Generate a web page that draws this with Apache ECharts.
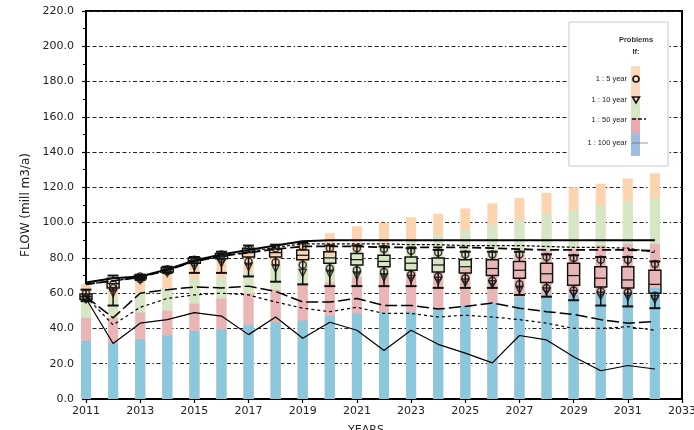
<!DOCTYPE html>
<html>
<head>
<meta charset="utf-8">
<script src="https://cdn.jsdelivr.net/npm/echarts@6/dist/echarts.min.js"></script>
<style>
  html, body { margin: 0; padding: 0; background: #fff; }
  #chart { width: 694px; height: 430px; }
</style>
</head>
<body>
<div id="chart"></div>
<script>
// Years on the horizontal axis
const years = [2011, 2012, 2013, 2014, 2015, 2016, 2017, 2018, 2019, 2020, 2021,
               2022, 2023, 2024, 2025, 2026, 2027, 2028, 2029, 2030, 2031, 2032];

// Demand levels (upper edge of each band, mill m3/a)
const level100 = [33, 31.5, 34, 36, 38.5, 39.5, 42, 43.5, 44.5, 47, 48.5, 49, 49.5, 51, 53, 54.5, 58, 59, 59, 60, 60, 63];
const level50  = [46, 46, 49, 50, 54, 57, 60, 62, 65, 66, 69, 70, 72, 72, 74, 80, 82, 84, 85, 87, 88, 88];
const level10  = [57, 58, 60, 63, 68, 69, 72, 75, 78, 81, 84, 87, 90, 93, 96, 99, 101, 105, 107, 110, 112, 114];
const level5   = [65, 66, 70, 73, 78, 80, 83, 86, 90, 94, 98, 100, 103, 105, 108, 111, 114, 117, 120, 122, 125, 128];

// Supply lines
const supplyTop   = [66, 68.5, 69.5, 73.5, 78.5, 82, 84.5, 87, 89.5, 90, 90, 90, 90, 90, 90, 90, 90, 90, 90, 90, 90, 90];
const upperShort  = [65, 67, 69, 73, 78, 81, 83.5, 86, 88, 88, 88, 88, 87.5, 87.5, 87, 87, 87, 86.5, 86, 86, 85.5, 83];
const upperLong   = [65, 67, 69, 73, 78, 81, 83, 85, 86.5, 86.5, 86.5, 86, 86, 86, 86, 85.5, 85, 84.5, 84.5, 84.5, 84.5, 84];
const middleLong  = [58, 46, 60, 62, 63.5, 63, 64, 61, 55, 55, 57, 53, 53, 51, 52.5, 54.5, 51.5, 49.5, 48, 45, 43, 44];
const middleShort = [58, 42, 52, 57, 59, 60, 59, 55, 51.5, 49.5, 52, 48.5, 48.5, 46.5, 47.5, 46.5, 45, 43, 40, 40, 41, 39];
const lowerSolid  = [57, 31.5, 43, 45, 49, 47, 36.5, 46.5, 34.5, 43.5, 39, 27.5, 39, 31, 26, 20.5, 36, 33.5, 24, 16, 19, 17];

// Box-and-whisker statistics: [low, q1, median, q3, high]
const boxStats = [
  [55.5, 56.5, 58, 59.5, 62], [53, 63, 65.5, 68.5, 70], [67.5, 68.2, 69, 70, 70.5],
  [71.5, 72, 73.5, 74.5, 75], [71.5, 77, 78.5, 80, 80.5], [71.5, 79.5, 81, 82.5, 83.5],
  [69.5, 80.5, 83, 85.5, 87], [66.5, 80.5, 83, 85, 87.5], [65, 79, 81.5, 84.5, 88.5],
  [64, 77, 80, 83.5, 87], [64, 76, 79, 82.5, 87], [64, 75, 78, 81.5, 86.5],
  [64, 73, 77, 80.5, 85.5], [63, 72, 76, 80, 84.5], [63, 71.5, 75, 79, 83.5],
  [63, 70, 74, 79, 83.5], [59, 68.5, 73, 78, 83.5], [58, 66, 71, 77, 82],
  [56, 64.5, 70, 77, 81.5], [53, 63.5, 68.5, 75, 80.5], [52.5, 63, 67.5, 75, 80.5],
  [51.5, 60, 65, 73, 78]
];

// Failure points: 1:5 year (circles) and 1:10 year (triangles)
const fiveYearHigh = [60, 65, 69.5, 73.5, 79, 82, 85, 85.5, 86.5, 85.5, 85.5, 85, 84, 83, 82, 82, 82, 80.5, 80, 79, 79, 76.5];
const fiveYearLow  = [57, 63, 68, 72.5, 77.5, 79.5, 78, 77.5, 76, 74, 73, 72, 70.5, 69.5, 68.5, 67, 65, 63, 61.5, 61, 60.5, 58.5];
const tenYearLow   = [56.5, 60, 67.5, 71.5, 75, 77, 75, 74, 71.5, 71, 70, 69, 68, 67, 66, 65, 62, 61, 59.5, 58.5, 58, 56.5];

const yTicks = { min: 0, max: 220, step: 20 };
const xTicks = { min: 2011, max: 2033, step: 2 };

const FONT = 'DejaVu Sans';
const pair = arr => years.map((y, i) => [y, arr[i]]);

const bandColors = { b100: '#8bc8dd', b50: '#e9b5b6', b10: '#d7e6c4', b5: '#fcd4b0' };

// Each band is drawn from zero to its upper level; lower bands are painted over higher ones
function barSeries(name, levels, color) {
  return {
    name, type: 'bar', data: pair(levels), barWidth: 10, barGap: '-100%',
    itemStyle: { color }, z: 1, silent: true
  };
}
function lineSeries(name, data, width, type) {
  return {
    name, type: 'line', data: pair(data), symbol: 'none', z: 4, silent: true,
    lineStyle: { color: '#000', width, type }
  };
}

const boxSeries = {
  type: 'custom', z: 5, silent: true,
  data: years.map((y, i) => [y].concat(boxStats[i])),
  renderItem(params, api) {
    const x = api.value(0);
    const pLow = api.coord([x, api.value(1)]);
    const pQ1 = api.coord([x, api.value(2)]);
    const pMed = api.coord([x, api.value(3)]);
    const pQ3 = api.coord([x, api.value(4)]);
    const pHigh = api.coord([x, api.value(5)]);
    const cx = pLow[0], hw = 6, cap = 5.5;
    const st = { stroke: '#111', lineWidth: 1.5, fill: null };
    return {
      type: 'group',
      children: [
        { type: 'line', shape: { x1: cx, y1: pHigh[1], x2: cx, y2: pQ3[1] }, style: st },
        { type: 'line', shape: { x1: cx, y1: pQ1[1], x2: cx, y2: pLow[1] }, style: st },
        { type: 'line', shape: { x1: cx - cap, y1: pHigh[1], x2: cx + cap, y2: pHigh[1] }, style: { stroke: '#111', lineWidth: 2 } },
        { type: 'line', shape: { x1: cx - cap, y1: pLow[1], x2: cx + cap, y2: pLow[1] }, style: { stroke: '#111', lineWidth: 2 } },
        { type: 'rect', shape: { x: cx - hw, y: pQ3[1], width: hw * 2, height: pQ1[1] - pQ3[1] }, style: st },
        { type: 'line', shape: { x1: cx - hw, y1: pMed[1], x2: cx + hw, y2: pMed[1] }, style: { stroke: '#111', lineWidth: 1.2 } }
      ]
    };
  }
};

function markerSeries(name, data, symbol, size, rotate) {
  return {
    name, type: 'scatter', data: pair(data), symbol, symbolSize: size, symbolRotate: rotate || 0,
    z: 6, silent: true,
    itemStyle: { color: 'rgba(0,0,0,0)', borderColor: '#111', borderWidth: 1.5 }
  };
}

const chart = echarts.init(document.getElementById('chart'), null, { renderer: 'canvas' });

// Legend panel on the upper right of the plot
const lg = { x: 569, y: 22, w: 99, h: 144, barX: 631, barW: 9 };
const legendFont = '7.5px "Liberation Sans"';
const legendGraphics = [
  { type: 'rect', shape: { x: lg.x, y: lg.y, width: lg.w, height: lg.h }, style: { fill: '#fff', stroke: '#c8c8c8', lineWidth: 1 }, z: 20 },
  { type: 'text', x: 636, y: 40, style: { text: 'Problems', font: 'bold 7.5px "Liberation Sans"', fill: '#333', textAlign: 'center', textVerticalAlign: 'middle' }, z: 21 },
  { type: 'text', x: 636, y: 52, style: { text: 'If:', font: 'bold 7.5px "Liberation Sans"', fill: '#333', textAlign: 'center', textVerticalAlign: 'middle' }, z: 21 },
  { type: 'rect', shape: { x: lg.barX, y: 66, width: lg.barW, height: 34 }, style: { fill: '#fbd9bd' }, z: 21 },
  { type: 'rect', shape: { x: lg.barX, y: 100, width: lg.barW, height: 18 }, style: { fill: '#d7e6c4' }, z: 21 },
  { type: 'rect', shape: { x: lg.barX, y: 118, width: lg.barW, height: 15 }, style: { fill: '#e9a9ad' }, z: 21 },
  { type: 'rect', shape: { x: lg.barX, y: 133, width: lg.barW, height: 23 }, style: { fill: '#9ebee0' }, z: 21 },
  { type: 'text', x: 627, y: 79, style: { text: '1 : 5 year', font: legendFont, fill: '#222', textAlign: 'right', textVerticalAlign: 'middle' }, z: 21 },
  { type: 'text', x: 627, y: 100, style: { text: '1 : 10 year', font: legendFont, fill: '#222', textAlign: 'right', textVerticalAlign: 'middle' }, z: 21 },
  { type: 'text', x: 627, y: 120, style: { text: '1 : 50 year', font: legendFont, fill: '#222', textAlign: 'right', textVerticalAlign: 'middle' }, z: 21 },
  { type: 'text', x: 627, y: 143, style: { text: '1 : 100 year', font: legendFont, fill: '#222', textAlign: 'right', textVerticalAlign: 'middle' }, z: 21 },
  { type: 'circle', shape: { cx: 636, cy: 79, r: 3 }, style: { fill: null, stroke: '#111', lineWidth: 1.6 }, z: 22 },
  { type: 'polygon', shape: { points: [[632.5, 97], [639.5, 97], [636, 103]] }, style: { fill: null, stroke: '#111', lineWidth: 1.6 }, z: 22 },
  { type: 'line', shape: { x1: 632, y1: 119, x2: 646, y2: 119 }, style: { stroke: '#111', lineWidth: 1.6, lineDash: [4, 2] }, z: 22 },
  { type: 'line', shape: { x1: 632, y1: 143, x2: 648, y2: 143 }, style: { stroke: '#556', lineWidth: 0.6 }, z: 22 }
];

chart.setOption({
  animation: false,
  backgroundColor: '#fff',
  grid: {
    left: 86, right: 12, top: 11, bottom: 31, containLabel: false, outerBoundsMode: 'none',
    show: true, borderColor: '#000', borderWidth: 2, backgroundColor: 'transparent'
  },
  xAxis: {
    type: 'value', min: xTicks.min, max: xTicks.max, interval: xTicks.step,
    name: 'YEARS', nameLocation: 'middle', nameGap: 26,
    nameTextStyle: { fontFamily: FONT, fontSize: 11, color: '#222', padding: [0, 36, 0, 0] },
    axisLine: { onZero: false, lineStyle: { color: '#000', width: 2 } },
    axisTick: { show: true, inside: false, length: 4, lineStyle: { color: '#000', width: 1.2 } },
    axisLabel: { fontFamily: FONT, fontSize: 11, color: '#222', margin: 7, formatter: v => String(v) },
    splitLine: { show: false }
  },
  yAxis: {
    type: 'value', min: yTicks.min, max: yTicks.max, interval: yTicks.step,
    name: 'FLOW (mill m3/a)', nameLocation: 'middle', nameGap: 38,
    nameTextStyle: { fontFamily: FONT, fontSize: 12, color: '#222' },
    axisLine: { lineStyle: { color: '#000', width: 2 } },
    axisTick: { show: true, inside: false, length: 4, lineStyle: { color: '#000', width: 1.2 } },
    minorTick: { show: true, splitNumber: 2, length: 3, lineStyle: { color: '#000', width: 1 } },
    axisLabel: { fontFamily: FONT, fontSize: 11, color: '#222', margin: 12, formatter: v => v.toFixed(1) },
    splitLine: { show: true, lineStyle: { color: '#222', width: 1.2, type: [4, 2.5, 4, 2.5, 4, 2.5, 1.5, 2.5] } }
  },
  graphic: legendGraphics,
  series: [
    barSeries('1 : 5 year', level5, bandColors.b5),
    barSeries('1 : 10 year', level10, bandColors.b10),
    barSeries('1 : 50 year', level50, bandColors.b50),
    barSeries('1 : 100 year', level100, bandColors.b100),
    lineSeries('supply', supplyTop, 2, 'solid'),
    lineSeries('upper short', upperShort, 1.2, [3, 2]),
    lineSeries('upper long', upperLong, 1.8, [9, 4]),
    lineSeries('middle long', middleLong, 1.5, [12, 4]),
    lineSeries('middle short', middleShort, 1.2, [3, 3]),
    lineSeries('lower', lowerSolid, 1.2, 'solid'),
    boxSeries,
    markerSeries('1:5 high', fiveYearHigh, 'circle', 7),
    markerSeries('1:5 low', fiveYearLow, 'circle', 7),
    markerSeries('1:10 low', tenYearLow, 'triangle', 7, 180)
  ]
});
</script>
</body>
</html>
